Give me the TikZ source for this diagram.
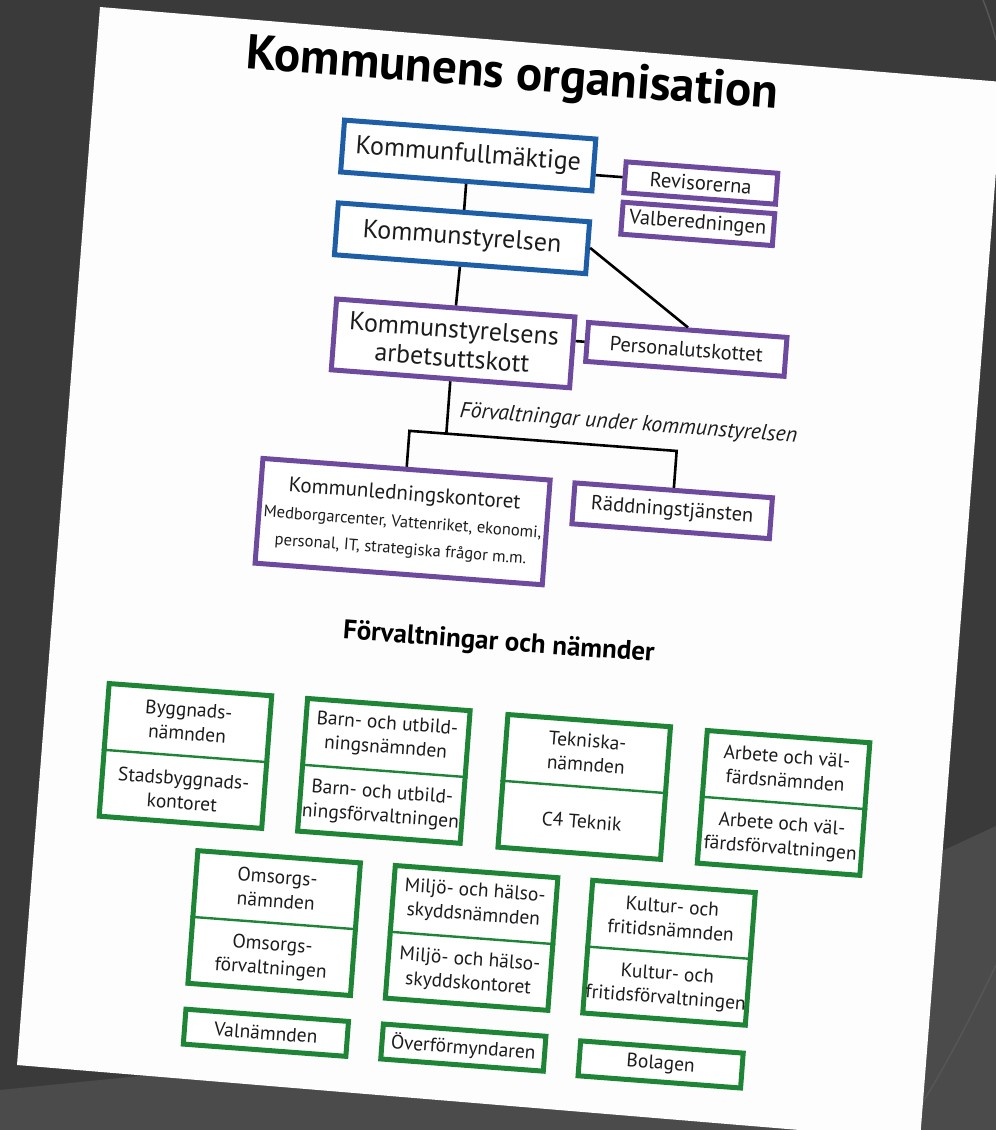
\documentclass[tikz,border=0pt]{standalone}
\usepackage{fontspec}
\setmainfont{PT Sans}
\usetikzlibrary{calc}
\definecolor{bgdark}{HTML}{3A3A3A}
\definecolor{bglight}{HTML}{4B4B4B}
\definecolor{bgarc}{HTML}{565656}
\definecolor{paper}{HTML}{FDFDFD}
\definecolor{kblue}{HTML}{1D5EA6}
\definecolor{kpurple}{HTML}{6E4A9E}
\definecolor{kgreen}{HTML}{1E8436}
\definecolor{ink}{HTML}{1C1C1C}
\tikzset{
  bluebox/.style={draw=kblue, line width=5pt, fill=white, text=ink,
    font=\fontsize{26}{30}\selectfont, minimum width=252pt, minimum height=52pt, inner sep=0pt},
  purbox/.style={draw=kpurple, line width=5pt, fill=white, text=ink, align=center, inner sep=0pt},
  smallpur/.style={purbox, font=\fontsize{20.5}{24}\selectfont},
  grbox/.style={draw=kgreen, line width=5pt, fill=white, minimum width=163pt, minimum height=133pt, inner sep=0pt},
  grsingle/.style={draw=kgreen, line width=5pt, fill=white, minimum width=163pt, minimum height=35pt,
    inner sep=0pt, text=ink, font=\fontsize{19.5}{24}\selectfont},
  grtext/.style={text=ink, font=\fontsize{19.5}{24}\selectfont, align=center, inner sep=0pt},
  divider/.style={draw=kgreen, line width=2.4pt},
  conn/.style={draw=black, line width=2.6pt},
}
\newcommand\grpair[4]{%
  \node[grbox] (#1) at (#2) {};
  \draw[divider] (#1.west) -- (#1.east);
  \node[grtext] (#1t) at ($(#1.north)!0.5!(#1.center)$) {#3};
  \node[grtext] (#1b) at ($(#1.south)!0.5!(#1.center)$) {#4};
}
\begin{document}
\begin{tikzpicture}[x=1pt,y=-1pt]
\useasboundingbox (0,0) rectangle (996,1130);
% background
\fill[bgdark] (0,0) rectangle (996,1130);
\fill[bglight] (0,1090) -- (160,1074) -- (942,851) -- (996,826) -- (996,1130) -- (0,1130) -- cycle;
\draw[bgarc, line width=1.5pt] (996,965) .. controls (965,1030) and (940,1075) .. (918,1110);
\draw[bgarc, line width=1.5pt] (983,0) .. controls (988,12) and (992,25) .. (996,40);
% paper
\fill[paper] (100,7) -- (1003,82) -- (920,1140) -- (17,1065) -- cycle;

\begin{scope}[shift={(500,560)}, rotate=-4.3, transform shape]
  % title
  \node[text=black, font=\bfseries\fontsize{49}{56}\selectfont] (title) at (-24,-483) {Kommunens organisation};

  % top part
  \node[bluebox] (kf) at (-62,-401) {Kommunfullmäktige};
  \node[bluebox] (ks) at (-62,-318) {Kommunstyrelsen};
  \node[smallpur, minimum width=152pt, minimum height=31pt] (rev) at (172,-391) {Revisorerna};
  \node[smallpur, minimum width=152pt, minimum height=32pt] (val) at (172,-350) {Valberedningen};
  \node[purbox, font=\fontsize{26}{29}\selectfont, minimum width=239pt, minimum height=71pt] (ksau) at (-63,-212.5)
    {Kommunstyrelsens\\arbetsuttskott};
  \node[smallpur, minimum width=199pt, minimum height=39pt] (pu) at (170,-224) {Personalutskottet};
  \node[purbox, font=\fontsize{16.6}{27}\selectfont, minimum width=288pt, minimum height=105pt] (klk) at (-100,-31)
    {{\fontsize{21}{27}\selectfont Kommunledningskontoret}\\
     Medborgarcenter, Vattenriket, ekonomi,\\
     personal, IT, strategiska frågor m.m.};
  \node[smallpur, minimum width=198pt, minimum height=41pt] (rt) at (168,-62) {Räddningstjänsten};

  \node[text=ink, font=\itshape\fontsize{22}{26}\selectfont] (lab) at (118,-145)
    {Förvaltningar under kommunstyrelsen};

  % connectors
  \draw[conn] (kf.south) -- (ks.north);
  \draw[conn] (rev.west) -- ($(kf.north east)!(rev.west)!(kf.south east)$);
  \draw[conn] (ks.south) -- (ksau.north);
  \draw[conn] (ks.east) -- (pu.north);
  \draw[conn] (pu.west) -- ($(ksau.north east)!(pu.west)!(ksau.south east)$);
  \coordinate (bm) at (-63,-122);
  \coordinate (bl) at (-100,-122);
  \coordinate (brr) at (168,-122);
  \draw[conn] (ksau.south) -- (bm);
  \draw[conn] (klk.north) -- (bl) -- (brr) -- (rt.north);

  % lower part
  \node[text=black, font=\bfseries\fontsize{27}{32}\selectfont] (hdr) at (5,83) {Förvaltningar och nämnder};

  \grpair{bygg}{-299,219}{Byggnads-\\nämnden}{Stadsbyggnads-\\kontoret}
  \grpair{barn}{-100,219}{Barn- och utbild-\\ningsnämnden}{Barn- och utbild-\\ningsförvaltningen}
  \grpair{tek}{101,220}{Tekniska-\\nämnden}{C4 Teknik}
  \grpair{arb}{301,221}{Arbete och väl-\\färdsnämnden}{Arbete och väl-\\färdsförvaltningen}

  \grpair{oms}{-198,379}{Omsorgs-\\nämnden}{Omsorgs-\\förvaltningen}
  \grpair{mil}{0,379}{Miljö- och hälso-\\skyddsnämnden}{Miljö- och hälso-\\skyddskontoret}
  \grpair{kul}{198,379}{Kultur- och\\fritidsnämnden}{Kultur- och\\fritidsförvaltningen}

  \node[grsingle] (valn) at (-198,489) {Valnämnden};
  \node[grsingle] (ofm) at (0,489) {Överförmyndaren};
  \node[grsingle] (bol) at (198,491) {Bolagen};
\end{scope}
\end{tikzpicture}
\end{document}
